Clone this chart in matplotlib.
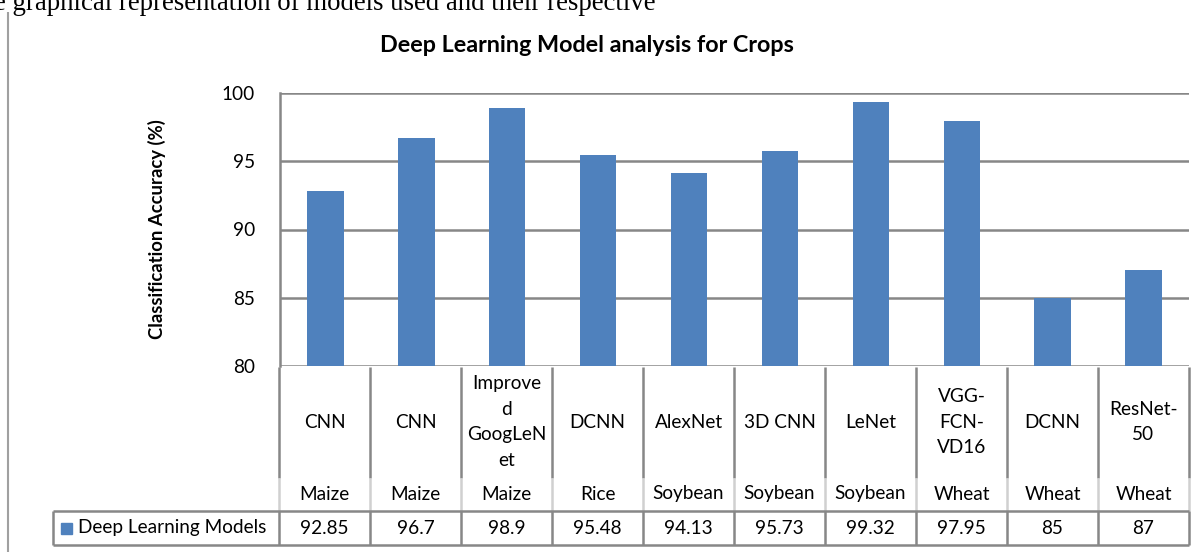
import matplotlib
matplotlib.use("Agg")
import matplotlib.pyplot as plt
from matplotlib.lines import Line2D

models = ["CNN", "CNN", "Improve\nd\nGoogLeN\net", "DCNN", "AlexNet", "3D CNN",
          "LeNet", "VGG-\nFCN-\nVD16", "DCNN", "ResNet-\n50"]
crops = ["Maize", "Maize", "Maize", "Rice", "Soybean", "Soybean", "Soybean",
         "Wheat", "Wheat", "Wheat"]
values = [92.85, 96.7, 98.9, 95.48, 94.13, 95.73, 99.32, 97.95, 85, 87]
value_labels = ["92.85", "96.7", "98.9", "95.48", "94.13", "95.73", "99.32", "97.95", "85", "87"]
yticks = [80, 85, 90, 95, 100]
series_name = "Deep Learning Models"
title = "Deep Learning Model analysis for Crops"
ylabel = "Classification Accuracy (%)"
page_text = "e graphical representation of models used and their respective"

W, H = 1203, 552
FONT = "Lato"
FS = 13.7
BAR = "#4F81BD"
GRID = "#878787"
LIGHT = "#D0D0D0"

fig = plt.figure(figsize=(W / 100, H / 100), dpi=100)

def fx(x):
    return x / W

def fy(y):
    return 1 - y / H

L, R, T, B = 280, 1189, 93, 366
ax = fig.add_axes([fx(L), fy(B), fx(R) - fx(L), fy(T) - fy(B)])
n = len(values)
ax.bar(range(n), [v - 80 for v in values], bottom=80, width=0.4, color=BAR, zorder=3)
ax.set_xlim(-0.5, n - 0.5)
ax.set_ylim(80, 100)
ax.set_yticks(yticks)
ax.set_yticklabels([str(t) for t in yticks], fontsize=FS, family=FONT)
ax.tick_params(axis="y", length=0, pad=18)
ax.set_xticks([])
for t in yticks:
    ax.axhline(t, color=GRID, lw=1.8, zorder=1)
for s in ["top", "right", "bottom"]:
    ax.spines[s].set_visible(False)
ax.spines["left"].set_color(GRID)
ax.spines["left"].set_linewidth(1.8)
ax.set_ylabel(ylabel, fontsize=13.3, fontweight="bold", family=FONT, labelpad=40)

fig.text(fx(587), fy(45), title, ha="center", va="center", fontsize=16.8,
         fontweight="bold", family=FONT)

def line(x0, y0, x1, y1, color=GRID, lw=1.8):
    fig.add_artist(Line2D([fx(x0), fx(x1)], [fy(y0), fy(y1)], color=color, lw=lw,
                          solid_capstyle="butt"))

colw = (R - 279) / n
xs = [279 + colw * i for i in range(n + 1)]
for x in xs:
    line(x, 367, x, 478)
    line(x, 478, x, 511, color=LIGHT)
    line(x, 511, x, 545)
line(53, 511, R, 511)
line(53, 545, R, 545)
line(53, 511, 53, 545)

for i in range(n):
    cx = (xs[i] + xs[i + 1]) / 2
    fig.text(fx(cx), fy(422), models[i], ha="center", va="center", fontsize=FS,
             family=FONT, linespacing=1.62)
    fig.text(fx(cx), fy(494), crops[i], ha="center", va="center", fontsize=FS, family=FONT)
    fig.text(fx(cx), fy(528), value_labels[i], ha="center", va="center", fontsize=FS, family=FONT)

fig.add_artist(plt.Rectangle((fx(61), fy(534)), fx(11), fy(0) - fy(11), color=BAR,
                             transform=fig.transFigure))
fig.text(fx(78), fy(528), series_name, ha="left", va="center", fontsize=FS, family=FONT)

# page border and clipped paragraph text
line(8, 12, 8, 552, color="#A0A0A0", lw=1.5)
fig.text(fx(-6), fy(10), page_text, ha="left", va="baseline", fontsize=19.3,
         family="Liberation Serif")

fig.savefig("out.png", dpi=100)
